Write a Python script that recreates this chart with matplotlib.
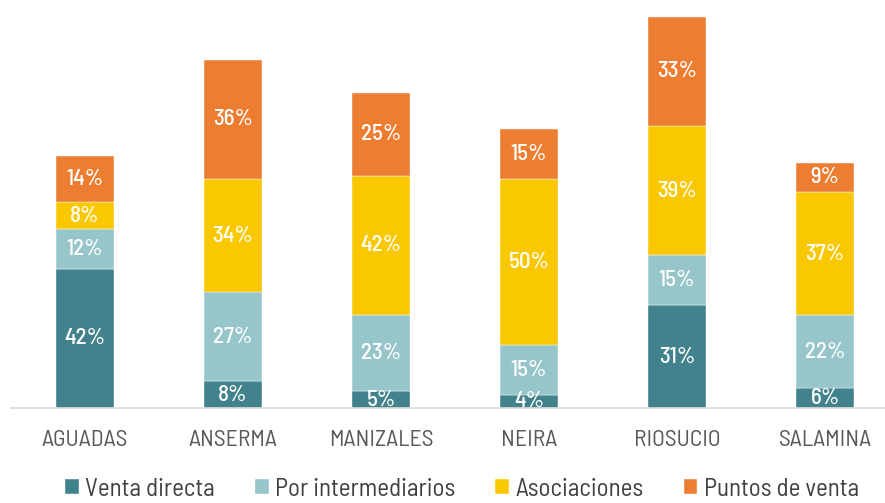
import matplotlib
matplotlib.use("Agg")
import matplotlib.pyplot as plt
import numpy as np
from matplotlib import font_manager

categories = ["AGUADAS", "ANSERMA", "MANIZALES", "NEIRA", "RIOSUCIO", "SALAMINA"]
series_names = ["Venta directa", "Por intermediarios", "Asociaciones", "Puntos de venta"]
venta_directa = [42, 8, 5, 4, 31, 6]
por_intermediarios = [12, 27, 23, 15, 15, 22]
asociaciones = [8, 34, 42, 50, 39, 37]
puntos_de_venta = [14, 36, 25, 15, 33, 9]
colors = ["#41828C", "#96C5CA", "#FAC800", "#ED7D31"]

avail = {f.name for f in font_manager.fontManager.ttflist}
def pick(*names):
    for n in names:
        if n in avail:
            return n
    return "DejaVu Sans"
fam_lbl = pick("Barlow Semi Condensed", "Barlow Condensed", "Archivo Narrow")
fam_axis = pick("Barlow Semi Condensed", "Archivo Narrow", "Barlow Condensed")
plt.rcParams['font.family'] = [fam_axis, 'DejaVu Sans']

fig = plt.figure(figsize=(8.85, 5.03), dpi=100)
ax = fig.add_axes([11/885, 95/503, 874/885, 408/503])

x = np.arange(len(categories))
data = [venta_directa, por_intermediarios, asociaciones, puntos_de_venta]
bottom = np.zeros(len(categories))
for vals, col, name in zip(data, colors, series_names):
    ax.bar(x, vals, 0.39, bottom=bottom, color=col, label=name,
           edgecolor="white", linewidth=0.3)
    for xi, v, bt in zip(x, vals, bottom):
        ax.text(xi, bt + v / 2, f"{v}%", ha="center", va="center",
                color="white", fontsize=16.5, fontweight="medium",
                family=[fam_lbl, 'DejaVu Sans'])
    bottom += np.array(vals)

ax.set_xlim(-0.5, -0.5 + 874/148)
ax.set_ylim(0, 123)
ax.set_yticks([])
ax.set_xticks(x)
ax.set_xticklabels(categories, color="#595959", fontsize=17)
ax.tick_params(axis="x", length=0, pad=16)
for s in ["top", "right", "left"]:
    ax.spines[s].set_visible(False)
ax.spines["bottom"].set_color("#D9D9D9")
ax.spines["bottom"].set_linewidth(1.2)

leg = fig.legend(loc="center", bbox_to_anchor=(462/885, 1 - 489/503), ncol=4,
                 frameon=False, fontsize=18, handlelength=0.55, handleheight=0.55,
                 columnspacing=1.6, handletextpad=0.25)
for t in leg.get_texts():
    t.set_color("#404040")

fig.savefig("out.png", dpi=100)
